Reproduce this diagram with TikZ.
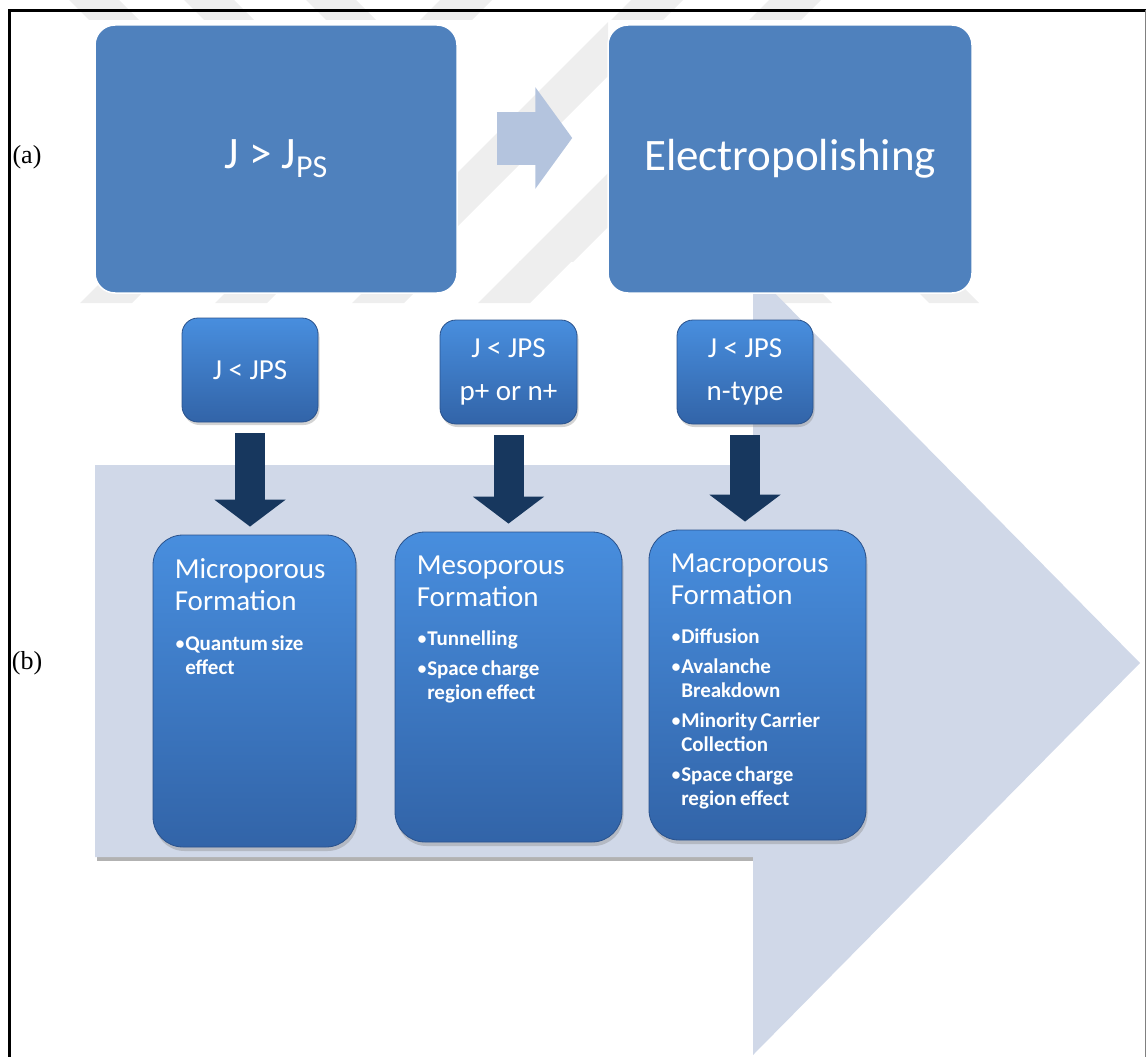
\documentclass[tikz,border=0pt]{standalone}
\usepackage{fontspec}
\setmainfont{Carlito}
\newfontfamily\labelfont{Liberation Serif}
\usetikzlibrary{arrows.meta,positioning,shadows,calc}
\setlength{\parindent}{0pt}

\definecolor{topblue}{RGB}{79,129,189}
\definecolor{chevron}{RGB}{208,216,232}
\definecolor{linkblue}{RGB}{180,196,222}
\definecolor{boxtop}{RGB}{72,142,222}
\definecolor{boxbot}{RGB}{50,100,168}
\definecolor{boxedge}{RGB}{42,82,140}
\definecolor{navyblue}{RGB}{23,55,94}
\definecolor{wmgrey}{RGB}{238,238,238}
\definecolor{shadowgrey}{RGB}{178,178,178}

\newlength{\bulletw}
\newcommand{\titlefont}{\fontsize{29}{32}\selectfont}
\newcommand{\itemfont}{\fontsize{21}{24.5}\selectfont\bfseries}
\newcommand{\bitem}[1]{\par\vspace{5pt}\noindent\settowidth{\bulletw}{\mdseries\textbullet}%
	\hangindent=\bulletw\hangafter=1 {\mdseries\textbullet}#1\par}

\tikzset{
	stagebox/.style={fill=topblue, draw=white, line width=1.5pt, rounded corners=20pt,
		text=white, font=\fontsize{45}{50}\selectfont},
	condbox/.style={top color=boxtop, bottom color=boxbot, draw=boxedge, line width=0.8pt,
		rounded corners=16pt, drop shadow={shadow xshift=1.5pt, shadow yshift=-3pt, opacity=0.35},
		text=white, align=center, font=\fontsize{29}{31}\selectfont},
	porebox/.style={top color=boxtop, bottom color=boxbot, draw=boxedge, line width=0.8pt,
		rounded corners=30pt, drop shadow={shadow xshift=1.5pt, shadow yshift=-4pt, opacity=0.35}},
	poretext/.style={text=white, inner sep=0pt, text width=#1},
	downarrow/.style={draw=navyblue, line width=30pt, -{Triangle[width=70pt,length=27pt]},
		shorten <=11pt, shorten >=8pt},
	wmark/.style={fill=wmgrey},
	sidelabel/.style={font=\labelfont\fontsize{26}{28}\selectfont, inner sep=0pt}
}

\begin{document}
\begin{tikzpicture}[x=1pt,y=-1pt]
		\useasboundingbox (0,0) rectangle (1146,1057);
		%%%%% watermark stripes %%%%%
		\begin{scope}
			\clip (0,0) rectangle (1146,20);
			\foreach \d in {69,184,306} \fill[wmark] (\d,0) -- ++(50,0) -- ++(20,20) -- ++(-50,0) -- cycle;
			\foreach \s in {440,631,769} \fill[wmark] (\s,0) -- ++(52,0) -- ++(-20,20) -- ++(-52,0) -- cycle;
		\end{scope}
		\foreach \x in {80,215,352,478} \fill[wmark] (\x,303) -- ++(52,0) -- ++(42,-42) -- ++(-52,0) -- cycle;
		\foreach \x in {740,887} \fill[wmark] (\x,261) -- ++(50,0) -- ++(42,42) -- ++(-50,0) -- cycle;
		\begin{scope}
			\clip (457,20) rectangle (608,261);
			\foreach \s in {630,781} \fill[wmark] (\s,0) -- ++(54,0) -- ++(-320,320) -- ++(-54,0) -- cycle;
		\end{scope}
		
		%%%%% big chevron %%%%%
		\fill[shadowgrey] (97,855) rectangle (753,861);
		\fill[chevron] (95,465) -- (753,465) -- (753,271) -- (1140,663) -- (753,1055) -- (753,857) -- (95,857) -- cycle;
		
		%%%%% (a) %%%%%
		\node[stagebox, minimum width=362pt, minimum height=268pt] (jgt) at (276,159)
			{J > J\raisebox{-9pt}{\fontsize{32}{32}\selectfont PS}};
		\node[stagebox, minimum width=364pt, minimum height=268pt] (electro) at (790,159) {Electropolishing};
		\draw[linkblue, line width=53pt, -{Triangle[width=100pt,length=37pt]}, shorten <=39pt, shorten >=35pt]
			($(jgt.east)+(0,-21)$) -- ($(electro.west)+(0,-21)$);
		
		%%%%% (b) %%%%%
		\node[condbox, minimum width=136pt, minimum height=104pt] (condA) at (250,370) {J < JPS};
		\node[condbox, minimum width=137pt, minimum height=104pt] (condB) at (508.5,372) {J < JPS\\[12pt]p+ or n+};
		\node[condbox, minimum width=136pt, minimum height=104pt] (condC) at (745,372) {J < JPS\\[12pt]n-type};
		
		\node[porebox, minimum width=203pt, minimum height=312pt] (microD) at (254.5,691) {};
		\node[porebox, minimum width=227pt, minimum height=310pt] (mesoE) at (508.5,687) {};
		\node[porebox, minimum width=217pt, minimum height=310pt] (macroF) at (757.5,685) {};
		
		\node[poretext=175pt, below right=24pt and 22pt of microD.north west] (microT)
			{\titlefont Microporous\\Formation\par\vspace{10pt}\itemfont
			\bitem{Quantum size\newline effect}};
		\node[poretext=195pt, below right=24pt and 22pt of mesoE.north west] (mesoT)
			{\titlefont Mesoporous\\Formation\par\vspace{10pt}\itemfont
			\bitem{Tunnelling}\bitem{Space charge\newline region effect}};
		\node[poretext=190pt, below right=24pt and 22pt of macroF.north west] (macroT)
			{\titlefont Macroporous\\Formation\par\vspace{10pt}\itemfont
			\bitem{Diffusion}\bitem{Avalanche\newline Breakdown}\bitem{Minority Carrier\newline Collection}\bitem{Space charge\newline region effect}};
		
		\draw[downarrow] (condA.south) -- (condA.south |- microD.north);
		\draw[downarrow] (condB.south) -- (condB.south |- mesoE.north);
		\draw[downarrow] (condC.south) -- (condC.south |- macroF.north);
		
		\node[sidelabel] (labA) at (27,157) {(a)};
		\node[sidelabel] (labB) at (27,663) {(b)};
		
		%%%%% frame %%%%%
		\draw[line width=3pt] (9.5,1057) -- (9.5,10.5) -- (1146,10.5);
		\draw[gray, line width=1pt] (1145,10.5) -- (1145,1057);
\end{tikzpicture}
\end{document}
